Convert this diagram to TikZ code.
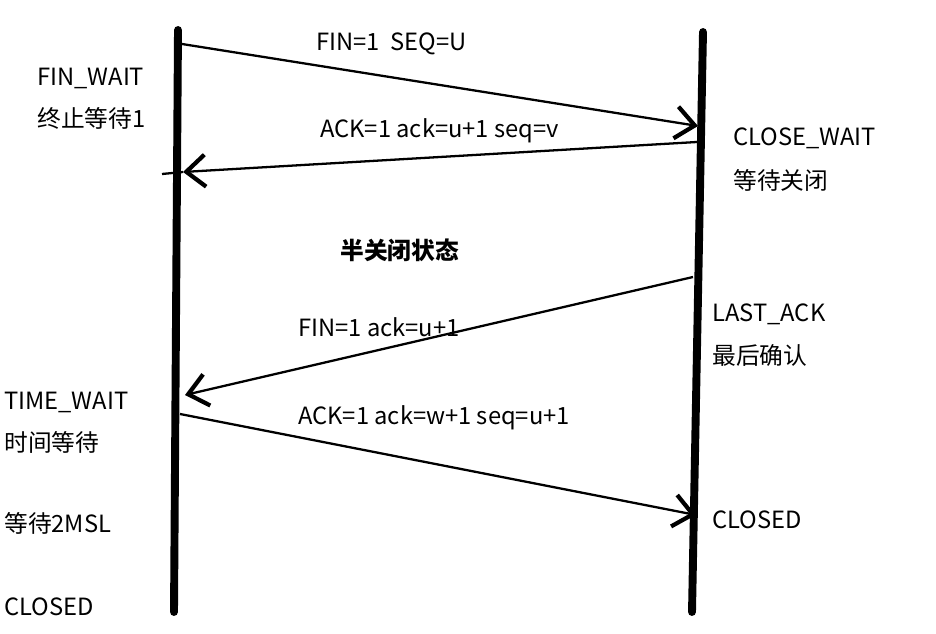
\documentclass[tikz,border=0pt]{standalone}
\usepackage{fontspec}
\setmainfont{Noto Sans CJK SC}
\usetikzlibrary{arrows.meta}
\tikzset{
  timeline/.style={line width=4.5pt, line cap=round},
  msg/.style={line width=1.3pt, -{Straight Barb[length=3.8mm,width=6.4mm,line width=2.4pt]}},
  lbl/.style={anchor=west, inner sep=0pt, font=\fontsize{13.5}{16}\selectfont},
}

\begin{document}
\begin{tikzpicture}[x=0.02cm,y=-0.02cm]
        \useasboundingbox (0,0) rectangle (936,634);
        % timelines
        \coordinate (LT) at (178,30);
        \coordinate (LB) at (174,612);
        \coordinate (RT) at (703,32);
        \coordinate (RB) at (692,612);
        \draw[timeline] (LT) -- (LB);
        \draw[timeline] (RT) -- (RB);
        % message ends
        \coordinate (A1) at (182,44);
        \coordinate (A2) at (698,126);
        \coordinate (B1) at (697,142);
        \coordinate (B2) at (183,172);
        \coordinate (B3) at (162,174);
        \coordinate (C1) at (693,277);
        \coordinate (C2) at (185,395);
        \coordinate (D1) at (180,414);
        \coordinate (D2) at (696,515);
        \draw[msg] (A1) to (A2);
        \draw[msg] (B1) to (B2);
        \draw[line width=1.3pt] (B2) to (B3);
        \draw[msg] (C1) to (C2);
        \draw[msg] (D1) to (D2);
        % labels
        \node[lbl] (m1) at (316,44) {FIN=1\ \ SEQ=U};
        \node[lbl] (m2) at (320,131) {ACK=1 ack=u+1 seq=v};
        \node[lbl] (m3) at (298,327) {FIN=1 ack=u+1};
        \node[lbl] (m4) at (298,418) {ACK=1 ack=w+1 seq=u+1};
        \node[lbl, font=\fontsize{13.5}{16}\selectfont\bfseries] (half) at (340,250) {半关闭状态};
        \node[lbl] (s1) at (37,78) {FIN\_WAIT};
        \node[lbl] (s2) at (37,118) {终止等待1};
        \node[lbl] (s3) at (733,138) {CLOSE\_WAIT};
        \node[lbl] (s4) at (733,180) {等待关闭};
        \node[lbl] (s5) at (712,314) {LAST\_ACK};
        \node[lbl] (s6) at (712,355) {最后确认};
        \node[lbl] (s7) at (4,402) {TIME\_WAIT};
        \node[lbl] (s8) at (4,442) {时间等待};
        \node[lbl] (s9) at (4,523) {等待2MSL};
        \node[lbl] (s10) at (712,520) {CLOSED};
        \node[lbl] (s11) at (4,607) {CLOSED};
      \end{tikzpicture}
\end{document}
